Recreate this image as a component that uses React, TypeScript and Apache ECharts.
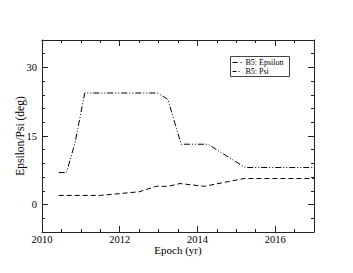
import React, { useEffect, useRef } from "react";
import * as echarts from "echarts";

const epsYears = [2010.43, 2011.5, 2012.0, 2012.5, 2012.94, 2013.25, 2013.55, 2014.18, 2015.2, 2017.0];
const epsValues = [2.0, 2.0, 2.4, 2.8, 4.0, 4.0, 4.6, 4.0, 5.7, 5.7];
const psiYears = [2010.43, 2010.63, 2010.85, 2011.1, 2012.98, 2013.24, 2013.58, 2014.27, 2015.23, 2017.0];
const psiValues = [7.0, 7.0, 13.5, 24.4, 24.4, 23.0, 13.2, 13.2, 8.1, 8.1];
const seriesNames = ["B5: Epsilon", "B5: Psi"];
const xLabelYears = [2010, 2012, 2014, 2016];
const yLabelValues = [0, 15, 30];

const FONT = "Liberation Serif";
const EPS_DASH = [5, 3];
const PSI_DASH = [6, 2, 1, 2, 1, 2];

export default function App() {
  const ref = useRef<HTMLDivElement>(null);
  useEffect(() => {
    document.body.style.margin = "0";
    const chart = echarts.init(ref.current!, null, { renderer: "svg" });
    const line = { show: true, onZero: false, lineStyle: { color: "#222", width: 1 } };
    const noLine = { show: false, onZero: false };
    const minorTick = { show: true, inside: true, length: 3, lineStyle: { color: "#222" } };
    const majorTick = (vals: number[]) => ({
      show: true,
      inside: true,
      length: 6,
      customValues: vals,
      lineStyle: { color: "#222" },
    });
    const labelStyle = {
      fontFamily: FONT,
      fontSize: 10.5,
      color: "#000",
      formatter: (v: number) => String(v),
    };
    const xBase = { type: "value", min: 2010, max: 2017, splitLine: { show: false } };
    const yBase = { type: "value", min: -6, max: 36, splitLine: { show: false } };
    chart.setOption({
      animation: false,
      backgroundColor: "#fff",
      grid: { left: 42, top: 40, right: 39, bottom: 41 },
      xAxis: [
        {
          ...xBase,
          position: "bottom",
          interval: 0.5,
          axisLine: line,
          axisTick: minorTick,
          axisLabel: { show: false },
        },
        {
          ...xBase,
          position: "bottom",
          name: "Epoch (yr)",
          nameLocation: "middle",
          nameGap: 12,
          nameMoveOverlap: false,
          nameTextStyle: { fontFamily: FONT, fontSize: 11, color: "#000" },
          axisLine: noLine,
          axisTick: majorTick(xLabelYears),
          axisLabel: { ...labelStyle, margin: 2, customValues: xLabelYears },
        },
        {
          ...xBase,
          position: "top",
          interval: 0.5,
          axisLine: line,
          axisTick: minorTick,
          axisLabel: { show: false },
        },
        {
          ...xBase,
          position: "top",
          axisLine: noLine,
          axisTick: majorTick(xLabelYears),
          axisLabel: { show: false },
        },
      ],
      yAxis: [
        {
          ...yBase,
          position: "left",
          interval: 3,
          axisLine: line,
          axisTick: minorTick,
          axisLabel: { show: false },
        },
        {
          ...yBase,
          position: "left",
          name: "Epsilon/Psi (deg)",
          nameLocation: "middle",
          nameGap: 16,
          nameMoveOverlap: false,
          nameTextStyle: { fontFamily: FONT, fontSize: 11.5, color: "#000" },
          axisLine: noLine,
          axisTick: majorTick(yLabelValues),
          axisLabel: { ...labelStyle, margin: 5, customValues: yLabelValues },
        },
        {
          ...yBase,
          position: "right",
          interval: 3,
          axisLine: line,
          axisTick: minorTick,
          axisLabel: { show: false },
        },
        {
          ...yBase,
          position: "right",
          axisLine: noLine,
          axisTick: majorTick(yLabelValues),
          axisLabel: { show: false },
        },
      ],
      graphic: [
        {
          type: "group",
          left: 230,
          top: 56,
          children: [
            {
              type: "rect",
              shape: { x: 0, y: 0, width: 59, height: 20 },
              style: { fill: "#fff", stroke: "#444", lineWidth: 1 },
            },
            {
              type: "line",
              shape: { x1: 2, y1: 6, x2: 11, y2: 6 },
              style: { stroke: "#000", lineWidth: 1, lineDash: EPS_DASH },
            },
            {
              type: "text",
              x: 15,
              y: 6,
              style: { text: seriesNames[0], font: `8px "${FONT}"`, fill: "#000", verticalAlign: "middle" },
            },
            {
              type: "line",
              shape: { x1: 2, y1: 15, x2: 11, y2: 15 },
              style: { stroke: "#000", lineWidth: 1, lineDash: [4, 2, 1, 2] },
            },
            {
              type: "text",
              x: 15,
              y: 15,
              style: { text: seriesNames[1], font: `8px "${FONT}"`, fill: "#000", verticalAlign: "middle" },
            },
          ],
        },
      ],
      series: [
        {
          name: seriesNames[0],
          type: "line",
          symbol: "none",
          xAxisIndex: 0,
          yAxisIndex: 0,
          data: epsYears.map((x, i) => [x, epsValues[i]]),
          lineStyle: { color: "#000", width: 1, type: EPS_DASH },
        },
        {
          name: seriesNames[1],
          type: "line",
          symbol: "none",
          xAxisIndex: 0,
          yAxisIndex: 0,
          data: psiYears.map((x, i) => [x, psiValues[i]]),
          lineStyle: { color: "#000", width: 1, type: PSI_DASH },
        },
      ],
    });
    return () => chart.dispose();
  }, []);
  return <div ref={ref} style={{ width: 353, height: 273 }} />;
}
